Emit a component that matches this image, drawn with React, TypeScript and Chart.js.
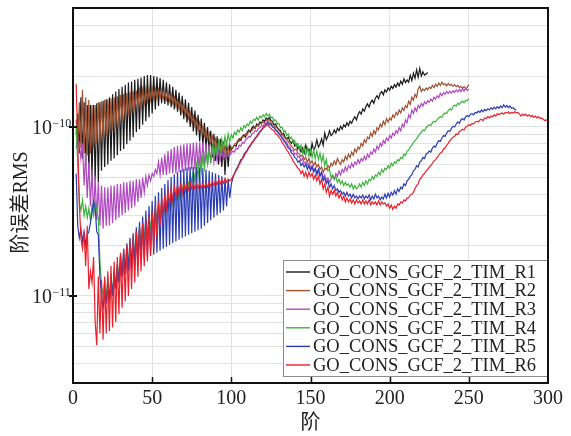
import React, { useEffect, useRef } from "react";
import { Chart, registerables } from "chart.js";

Chart.register(...registerables);

// Degree-error RMS values, unit 1e-11, every series starts at degree 2
const START_DEGREE = 2;
const UNIT = 1e-11;

const LABELS = [
  "GO_CONS_GCF_2_TIM_R1",
  "GO_CONS_GCF_2_TIM_R2",
  "GO_CONS_GCF_2_TIM_R3",
  "GO_CONS_GCF_2_TIM_R4",
  "GO_CONS_GCF_2_TIM_R5",
  "GO_CONS_GCF_2_TIM_R6",
];
const COLORS = ["#1a1a1a", "#a0502e", "#b048c0", "#3cb43c", "#2a3cb4", "#e8202c"];

const X_TICKS = [0, 50, 100, 150, 200, 250, 300];
const Y_MAJOR = [1e-11, 1e-10];
const Y_LABELS = ["10", "10"];
const Y_EXPONENTS = ["\u221211", "\u221210"];
const Y_GRID = [4e-12, 5e-12, 6e-12, 7e-12, 8e-12, 9e-12, 1e-11, 2e-11, 3e-11, 4e-11, 5e-11, 6e-11, 7e-11, 8e-11, 9e-11, 1e-10, 2e-10, 3e-10, 4e-10, 5e-10];
const X_TITLE = "阶";
const Y_TITLE = "阶误差RMS";

const R1 = [
  9.0, 12, 7.0, 15, 6.5, 14, 6.0, 13.5, 5.5, 13.5,
  5.0, 13.5, 4.8, 13.8, 4.7, 14, 5.5, 14.3, 5.8, 14.6,
  6.0, 15, 6.3, 15.6, 6.5, 16.2, 6.8, 16.8, 7.2, 17.3,
  7.4, 17.8, 7.9, 18.3, 8.3, 18.6, 8.7, 19, 9.3, 19.3,
  9.7, 19.6, 10.3, 20, 10.8, 20.3, 11.4, 20.3, 12, 20,
  12.7, 19.8, 13.3, 19.5, 13.8, 19, 13.7, 18.4, 13.4, 17.9,
  13.1, 17.3, 12.7, 16.6, 12.3, 16, 11.7, 15.3, 11.1, 14.6,
  10.6, 13.9, 10, 13.1, 9.4, 12.5, 8.9, 11.8, 8.2, 11.2,
  7.8, 10.6, 7.4, 10, 7.0, 9.5, 6.6, 9.1, 6.3, 8.8,
  6.0, 8.5, 5.8, 8.2, 5.2, 8.0, 5.8, 7.8,
  7.3, 7.6, 7.8, 7.7, 8.2, 8.5, 8.3, 8.8, 9.0, 8.7,
  9.3, 9.6, 9.3, 9.9, 10.1, 9.8, 10.4, 10.2, 10.7, 10.5,
  11, 10.8, 11.3, 11.1, 11.4, 10.9, 10.8, 10.3, 10.4, 9.9,
  9.7, 9.5, 9.0, 9.2, 8.7, 8.5, 8.7, 8.2, 8.0, 8.3,
  7.7, 7.9, 7.4, 7.6, 7.1, 7.5, 7.0, 7.8, 7.2, 7.4,
  6.9, 8.0, 7.3, 7.6, 8.4, 7.6, 7.9, 8.5, 7.8, 9.2,
  8.4, 8.8, 9.5, 8.9, 9.1, 9.6, 9.2, 9.8, 9.5, 10.1,
  9.7, 10.3, 10.0, 10.6, 10.2, 10.8, 10.5, 11.1, 11.5, 11.0,
  11.8, 12.3, 11.9, 12.8, 12.4, 13.2, 13.7, 13.1, 14.0, 14.4,
  13.8, 14.8, 15.3, 14.7, 15.8, 16.2, 15.5, 16.6, 16.1, 17.0,
  16.5, 17.4, 16.9, 17.8, 17.2, 18.2, 17.5, 18.7, 17.9, 19.3,
  18.3, 19.0, 18.4, 20.2, 18.8, 20.8, 19.4, 21.8, 19.7, 22.2,
  20.0, 21.2, 20.3, 20.6, 21.0,
];

const R2 = [
  11, 8, 14, 7.5, 16.6, 7.0, 15, 6.8, 14.5, 7.0,
  13.5, 7.5, 13.5, 8.0, 14, 8.2, 14.2, 8.5, 14.5, 8.8,
  14.6, 9.2, 14.8, 9.6, 15, 10, 15.2, 10.4, 15.5, 10.8,
  15.7, 11.2, 15.9, 11.7, 16.1, 12.2, 16.3, 12.7, 16.4, 13.1,
  16.5, 13.5, 16.6, 13.9, 16.7, 14.2, 16.8, 14.5, 16.8, 14.7,
  16.7, 14.8, 16.6, 14.8, 16.4, 14.7, 16.1, 14.5, 15.8, 14.2,
  15.4, 13.8, 14.9, 13.3, 14.4, 12.8, 13.9, 12.3, 13.4, 11.8,
  12.8, 11.2, 12.2, 10.7, 11.6, 10.2, 11.1, 9.7, 10.6, 9.3,
  10.1, 8.9, 9.6, 8.5, 9.2, 8.1, 8.8, 7.8, 8.5, 7.5,
  8.2, 7.2, 8.0, 7.0, 7.8, 6.9, 7.6, 6.9,
  7.6, 7.5, 7.9, 8.0, 8.3, 8.2, 8.6, 8.8, 8.7, 9.1,
  9.0, 9.4, 9.6, 9.5, 9.9, 9.8, 10.2, 10.1, 10.5, 10.4,
  10.7, 10.6, 11.0, 10.9, 11.1, 10.6, 10.4, 10.2, 10.0, 9.8,
  9.6, 9.3, 9.1, 8.8, 8.6, 8.4, 8.2, 7.9, 7.7, 7.5,
  7.3, 7.4, 7.0, 6.9, 6.7, 6.8, 6.4, 6.6, 6.2, 6.5,
  6.1, 6.3, 5.9, 6.2, 5.8, 6.0, 5.6, 5.8, 5.4, 5.7,
  5.6, 5.9, 5.7, 6.1, 5.9, 6.3, 6.0, 6.5, 6.2, 6.0,
  6.4, 6.2, 6.7, 6.4, 6.9, 6.6, 7.1, 6.8, 7.4, 7.1,
  7.6, 7.4, 8.0, 7.7, 8.4, 8.1, 8.7, 8.5, 9.2, 8.8,
  9.5, 9.1, 9.9, 9.6, 10.4, 10.0, 10.8, 10.3, 11.2, 10.7,
  11.3, 11.0, 11.8, 11.4, 12.2, 11.8, 12.6, 12.1, 13.0, 12.5,
  13.4, 13.0, 14.2, 13.6, 15.0, 14.4, 15.6, 15.0, 16.8, 17.4,
  16.2, 16.8, 16.4, 17.0, 16.6, 17.2, 16.9, 17.6, 17.1, 17.9,
  17.4, 18.2, 17.6, 18.4, 17.8, 18.0, 17.5, 18.1, 17.6, 17.9,
  17.4, 17.8, 17.3, 17.6, 17.1, 17.4, 16.9, 17.3, 16.8, 17.2,
  17.8,
];

const R3 = [
  7.5, 8.7, 8.0, 6.5, 8.0, 4.5, 7.0, 3.8, 6.2, 3.4,
  5.6, 3.0, 5.1, 2.8, 4.7, 2.6, 4.5, 2.5, 4.4, 2.6,
  4.4, 2.6, 4.5, 2.7, 4.5, 2.8, 4.6, 2.9, 4.6, 3.0,
  4.7, 3.1, 4.7, 3.2, 4.8, 3.3, 4.8, 3.4, 4.9, 3.6,
  4.9, 3.8, 5.0, 4.1, 5.1, 4.5, 5.2, 4.8, 5.3, 5.1,
  5.6, 5.3, 6.2, 5.2, 6.6, 5.2, 6.9, 5.2, 7.2, 5.3,
  7.4, 5.3, 7.6, 5.3, 7.7, 5.4, 7.8, 5.4, 7.9, 5.5,
  8.0, 5.5, 8.0, 5.6, 8.1, 5.6, 8.1, 5.7, 8.1, 5.8,
  8.1, 5.9, 8.0, 6.0, 7.9, 6.1, 7.7, 6.2, 7.5, 6.3,
  7.3, 6.4, 7.1, 6.5, 6.9, 6.6, 6.9, 6.8,
  7.0, 7.2, 7.1, 7.5, 7.4, 7.8, 7.7, 8.1, 8.0, 8.4,
  8.5, 8.8, 8.7, 9.1, 9.2, 9.5, 9.4, 9.8, 9.9, 10.2,
  10.1, 10.5, 10.4, 10.8, 10.6, 10.3, 10.1, 9.9, 9.6, 9.5,
  9.2, 9.0, 8.7, 8.5, 8.2, 8.1, 7.7, 7.6, 7.2, 7.3,
  6.9, 7.0, 6.6, 6.7, 6.3, 6.5, 6.1, 6.2, 5.9, 6.1,
  5.7, 5.9, 5.5, 5.7, 5.3, 5.6, 5.2, 5.4, 5.0, 5.2,
  4.8, 5.0, 4.7, 4.9, 5.1, 4.9, 5.3, 5.1, 5.5, 5.2,
  5.6, 5.4, 5.8, 5.5, 5.9, 5.7, 6.1, 5.8, 6.2, 6.0,
  6.4, 6.1, 6.5, 6.3, 6.7, 6.4, 6.9, 6.6, 7.1, 6.9,
  7.4, 7.1, 7.7, 7.4, 8.0, 7.7, 8.3, 8.0, 8.6, 8.3,
  8.9, 8.6, 9.2, 8.9, 9.5, 9.2, 9.9, 9.5, 10.4, 10.0,
  11.0, 10.6, 11.8, 11.3, 12.6, 12.0, 13.0, 12.4, 13.4, 13.0,
  13.8, 13.3, 14.1, 13.7, 14.3, 14.0, 14.6, 14.2, 15.0, 14.6,
  15.3, 14.9, 15.8, 15.3, 16.0, 15.6, 16.2, 15.8, 16.3, 15.9,
  16.4, 16.0, 16.6, 16.1, 16.7, 16.2, 16.8, 16.3, 16.9, 16.4,
  16.8,
];

const R4 = [
  10, 6.0, 3.6, 3.2, 3.7, 3.0, 3.4, 2.9, 3.3, 2.8,
  3.4, 3.0, 3.6, 3.2, 2.9, 1.6, 1.15, 1.0, 1.25, 0.95,
  1.3, 0.9, 1.35, 1.0, 1.45, 1.1, 1.55, 1.2, 1.7, 1.3,
  1.8, 1.4, 1.95, 1.5, 2.1, 1.6, 2.25, 1.7, 2.4, 1.85,
  2.55, 2.0, 2.7, 2.15, 2.85, 2.3, 3.0, 2.45, 3.15, 2.6,
  3.3, 2.75, 3.45, 2.9, 3.6, 3.05, 3.75, 3.2, 3.9, 3.35,
  4.05, 3.5, 4.2, 3.65, 4.4, 3.8, 4.6, 4.0, 4.8, 4.2,
  5.0, 4.4, 5.3, 4.6, 5.6, 4.8, 6.0, 5.1, 6.4, 5.4,
  6.7, 5.7, 7.0, 6.0, 7.3, 6.3, 7.6, 6.6, 7.9, 6.9,
  8.2, 7.2, 8.5, 7.5, 8.8, 7.8, 9.1, 8.2,
  9.0, 8.6, 9.3, 9.0, 9.6, 9.3, 9.9, 9.5, 10.2, 9.9,
  10.4, 10.2, 10.8, 10.5, 11.1, 10.9, 11.4, 11.0, 11.6, 11.3,
  11.8, 11.5, 12.0, 11.6, 11.9, 11.3, 11.4, 10.9, 11.0, 10.4,
  10.5, 9.9, 10.0, 9.4, 9.5, 8.9, 9.1, 8.5, 8.7, 8.1,
  8.3, 7.7, 8.0, 7.3, 7.8, 7.0, 7.6, 6.8, 7.5, 6.7,
  7.4, 6.6, 7.3, 6.5, 7.2, 6.4, 7.0, 6.2, 6.8, 5.9,
  6.4, 5.5, 5.6, 5.0, 5.2, 4.9, 5.1, 4.7, 4.9, 4.6,
  4.8, 4.5, 4.7, 4.5, 4.6, 4.4, 4.6, 4.3, 4.5, 4.3,
  4.4, 4.6, 4.4, 4.7, 4.5, 4.8, 4.6, 4.9, 4.8, 5.1,
  4.9, 5.2, 5.1, 5.4, 5.2, 5.6, 5.4, 5.7, 5.6, 5.9,
  5.7, 6.1, 5.9, 6.2, 6.1, 6.4, 6.3, 6.6, 6.5, 6.9,
  6.8, 7.2, 7.3, 7.6, 7.8, 8.1, 8.3, 8.5, 8.8, 9.1,
  9.3, 9.6, 9.5, 9.9, 10.1, 10.3, 10.2, 10.6, 10.8, 10.7,
  11.1, 11.3, 11.5, 11.4, 11.9, 12.1, 12.0, 12.5, 12.8, 12.6,
  13.2, 13.5, 13.3, 13.8, 13.6, 14.0, 14.2, 13.9, 14.4, 14.3,
  14.7,
];

const R5 = [
  5.3, 2.6, 2.2, 2.5, 2.1, 2.4, 2.0, 2.3, 2.4, 2.7,
  3.1, 3.6, 3.3, 2.4, 2.3, 1.3, 1.0, 0.83, 1.1, 0.9,
  1.2, 0.95, 1.3, 1.0, 1.4, 1.1, 1.55, 1.2, 1.75, 1.3,
  1.9, 1.35, 2.05, 1.4, 2.2, 1.45, 2.35, 1.5, 2.55, 1.55,
  2.75, 1.6, 2.95, 1.65, 3.2, 1.7, 3.4, 1.72, 3.65, 1.75,
  3.9, 1.8, 4.1, 1.85, 4.35, 1.9, 4.6, 1.95, 4.85, 2.0,
  5.05, 2.05, 5.25, 2.1, 5.4, 2.15, 5.55, 2.2, 5.65, 2.25,
  5.75, 2.3, 5.8, 2.35, 5.8, 2.4, 5.8, 2.45, 5.75, 2.5,
  5.7, 2.6, 5.6, 2.7, 5.5, 2.8, 5.4, 2.9, 5.3, 3.0,
  5.2, 3.1, 5.1, 3.2, 5.0, 3.4, 4.9, 3.8,
  4.6, 5.0, 5.3, 5.6, 5.8, 6.1, 6.4, 6.5, 6.9, 7.1,
  7.3, 7.6, 7.8, 8.1, 8.3, 8.6, 8.8, 9.1, 9.4, 9.6,
  9.9, 10.1, 10.4, 10.6, 10.3, 10.4, 10.0, 9.9, 9.6, 9.4,
  9.1, 8.9, 8.6, 8.3, 8.1, 7.8, 7.5, 7.4, 7.0, 6.9,
  6.6, 6.5, 6.2, 6.3, 5.9, 6.1, 5.8, 6.0, 5.6, 5.9,
  5.5, 5.8, 5.4, 5.7, 5.2, 5.6, 5.1, 5.4, 4.8, 5.0,
  4.6, 4.8, 4.4, 4.6, 4.3, 4.5, 4.2, 4.3, 4.1, 4.2,
  4.0, 4.1, 3.9, 4.1, 3.9, 4.0, 3.8, 4.0, 3.8, 3.9,
  3.75, 3.9, 3.8, 3.95, 3.75, 3.9, 3.8, 3.95, 3.7, 3.9,
  3.75, 4.0, 3.8, 3.9, 3.7, 3.85, 3.75, 4.0, 3.8, 4.05,
  3.85, 4.1, 3.95, 4.2, 4.0, 4.3, 4.15, 4.4, 4.3, 4.6,
  4.5, 4.8, 4.9, 5.1, 5.2, 5.5, 5.6, 5.9, 5.8, 6.2,
  6.3, 6.6, 6.5, 6.9, 7.0, 7.2, 7.1, 7.5, 7.7, 7.6,
  8.0, 8.3, 8.2, 8.6, 8.9, 8.8, 9.2, 9.5, 9.4, 9.8,
  10.1, 10.0, 10.4, 10.7, 10.5, 11.0, 11.2, 11.0, 11.5, 11.7,
  11.5, 11.9, 12.0, 11.8, 12.2, 12.1, 12.4, 12.2, 12.6, 12.3,
  12.7, 12.5, 12.8, 12.6, 13.0, 12.7, 13.1, 12.8, 13.2, 12.9,
  13.3, 13.0, 13.5, 13.1, 13.4, 13.0, 13.3, 12.9, 13.0, 12.7,
  12.6,
];

const R6 = [
  18, 8, 3.5, 2.2, 1.9, 2.4, 1.5, 2.6, 1.1, 1.4,
  1.2, 1.7, 0.7, 0.51, 1.3, 0.6, 1.24, 0.55, 1.3, 0.6,
  1.4, 0.62, 1.5, 0.65, 1.6, 0.7, 1.7, 0.78, 1.8, 0.85,
  1.9, 0.93, 2.0, 1.0, 2.1, 1.1, 2.25, 1.2, 2.4, 1.3,
  2.55, 1.4, 2.7, 1.5, 2.85, 1.6, 3.0, 1.75, 3.15, 1.9,
  3.4, 2.2, 3.6, 2.6, 3.8, 3.0, 4.0, 3.3, 4.2, 3.5,
  4.3, 3.7, 4.4, 3.9, 4.5, 4.0, 4.55, 4.1, 4.6, 4.2,
  4.6, 4.25, 4.65, 4.3, 4.6, 4.3, 4.6, 4.35, 4.6, 4.35,
  4.6, 4.4, 4.65, 4.4, 4.7, 4.45, 4.75, 4.5, 4.8, 4.55,
  4.85, 4.6, 4.9, 4.65, 4.9, 4.7, 4.9, 4.8,
  4.9, 5.1, 5.3, 5.5, 5.7, 6.0, 6.2, 6.5, 6.7, 7.0,
  7.2, 7.5, 7.7, 8.0, 8.2, 8.5, 8.7, 9.0, 9.3, 9.5,
  9.8, 10.0, 10.2, 10.3, 10.0, 9.8, 9.6, 9.5, 9.1, 9.0,
  8.7, 8.5, 8.1, 7.9, 7.6, 7.3, 7.1, 6.8, 6.6, 6.3,
  6.1, 5.9, 5.7, 5.6, 5.3, 5.5, 5.1, 5.4, 5.0, 5.4,
  5.1, 5.3, 4.9, 5.2, 4.8, 5.1, 4.6, 4.9, 4.3, 4.6,
  4.1, 4.4, 3.9, 4.2, 4.0, 4.2, 3.9, 4.1, 3.8, 4.0,
  3.7, 3.9, 3.6, 3.8, 3.6, 3.75, 3.55, 3.7, 3.5, 3.7,
  3.55, 3.65, 3.5, 3.7, 3.5, 3.65, 3.5, 3.7, 3.45, 3.6,
  3.5, 3.6, 3.45, 3.65, 3.45, 3.6, 3.5, 3.55, 3.4, 3.5,
  3.3, 3.45, 3.25, 3.4, 3.3, 3.5, 3.45, 3.6, 3.55, 3.7,
  3.65, 3.8, 3.8, 3.95, 4.0, 4.1, 4.3, 4.5, 4.6, 4.9,
  5.0, 5.2, 5.3, 5.5, 5.6, 5.8, 5.9, 6.1, 6.3, 6.4,
  6.6, 6.8, 7.0, 7.1, 7.4, 7.5, 7.8, 8.0, 8.3, 8.5,
  8.7, 8.8, 9.1, 9.0, 9.4, 9.5, 9.7, 9.6, 10.0, 10.1,
  10.3, 10.2, 10.5, 10.4, 10.7, 10.8, 10.7, 11.0, 11.1, 10.9,
  11.3, 11.2, 11.5, 11.3, 11.6, 11.5, 11.8, 11.6, 12.0, 11.8,
  12.0, 12.1, 11.9, 12.2, 12.1, 12.3, 12.0, 12.2, 12.1, 12.3,
  12.1, 12.2, 11.9, 11.6, 11.9, 11.7, 11.9, 11.6, 11.8, 11.5,
  11.7, 11.4, 11.6, 11.3, 11.5, 11.2, 11.3, 11.1, 10.9, 11.0,
  10.9,
];

const SERIES = [R1, R2, R3, R4, R5, R6];

const SERIF = '"Liberation Serif", "Times New Roman", "Noto Sans CJK SC", serif';
const TEXT_COLOR = "#222";

const decorPlugin = {
  id: "decor",
  afterDraw(chart: any) {
    const { ctx, chartArea } = chart;
    const xs = chart.scales.x;
    const ys = chart.scales.y;
    const { left, right, top, bottom } = chartArea;
    ctx.save();

    // legend
    const lx = 283.5, ly = 260.5, lw = 265, lh = 116;
    ctx.fillStyle = "#fff";
    ctx.fillRect(lx, ly, lw, lh);
    ctx.strokeStyle = "#8c8c8c";
    ctx.lineWidth = 1;
    ctx.strokeRect(lx, ly, lw, lh);
    ctx.font = "18.5px " + SERIF;
    ctx.textAlign = "left";
    ctx.textBaseline = "middle";
    LABELS.forEach((lab, i) => {
      const yy = 272 + i * 18.6;
      ctx.strokeStyle = COLORS[i];
      ctx.lineWidth = 1.4;
      ctx.beginPath();
      ctx.moveTo(286, yy);
      ctx.lineTo(310, yy);
      ctx.stroke();
      ctx.fillStyle = TEXT_COLOR;
      ctx.fillText(lab, 313, yy + 1);
    });

    // frame
    ctx.strokeStyle = "#111";
    ctx.lineWidth = 2;
    ctx.strokeRect(left, top, right - left, bottom - top);

    // ticks
    ctx.lineWidth = 1.5;
    X_TICKS.forEach((t) => {
      if (t === X_TICKS[0] || t === X_TICKS[X_TICKS.length - 1]) return;
      const px = Math.round(xs.getPixelForValue(t)) + 0.5;
      ctx.beginPath();
      ctx.moveTo(px, bottom - 6);
      ctx.lineTo(px, bottom + 1);
      ctx.stroke();
    });
    ctx.lineWidth = 2;
    Y_MAJOR.forEach((v, i) => {
      const py = Math.round(ys.getPixelForValue(v));
      ctx.beginPath();
      ctx.moveTo(left - 4, py);
      ctx.lineTo(left + 4, py);
      ctx.stroke();
      ctx.fillStyle = TEXT_COLOR;
      ctx.font = "20px " + SERIF;
      ctx.textAlign = "right";
      ctx.textBaseline = "alphabetic";
      ctx.fillText(Y_LABELS[i], 52, py + 7);
      ctx.font = "12px " + SERIF;
      ctx.textAlign = "left";
      ctx.fillText(Y_EXPONENTS[i], 52.5, py);
    });

    // titles
    ctx.fillStyle = TEXT_COLOR;
    ctx.font = "20px " + SERIF;
    ctx.textAlign = "center";
    ctx.textBaseline = "middle";
    ctx.fillText(X_TITLE, (left + right) / 2, 424);
    ctx.translate(22, 202.5);
    ctx.rotate(-Math.PI / 2);
    ctx.fillText(Y_TITLE, 0, 0);
    ctx.restore();
  },
};

export default function App() {
  const ref = useRef<HTMLCanvasElement | null>(null);
  useEffect(() => {
    if (!ref.current) return;
    const datasets = SERIES.map((s, i) => ({
      label: LABELS[i],
      data: s.map((v, k) => ({ x: START_DEGREE + k, y: v * UNIT })),
      borderColor: COLORS[i],
      backgroundColor: COLORS[i],
      borderWidth: 1.2,
      pointRadius: 0,
      tension: 0,
      fill: false,
      order: SERIES.length - i,
    }));
    const chart = new Chart(ref.current, {
      type: "line",
      data: { datasets },
      options: {
        animation: false,
        responsive: false,
        devicePixelRatio: 1,
        layout: { padding: { left: 0, right: 23, top: 8, bottom: 0 } },
        plugins: { legend: { display: false }, tooltip: { enabled: false } },
        scales: {
          x: {
            type: "linear",
            min: 0,
            max: 300,
            afterBuildTicks: (axis: any) => {
              axis.ticks = X_TICKS.map((v) => ({ value: v }));
            },
            afterFit: (axis: any) => {
              axis.height = 53;
            },
            grid: { color: "#e2e2e2", lineWidth: 1, drawTicks: false },
            border: { display: false },
            ticks: {
              padding: 4,
              maxRotation: 0,
              autoSkip: false,
              color: TEXT_COLOR,
              font: { family: SERIF, size: 20 },
            },
          },
          y: {
            type: "logarithmic",
            min: 3.05e-12,
            max: 5.06e-10,
            afterBuildTicks: (axis: any) => {
              axis.ticks = Y_GRID.map((v) => ({ value: v }));
            },
            afterFit: (axis: any) => {
              axis.width = 73;
            },
            grid: { color: "#e2e2e2", lineWidth: 1, drawTicks: false },
            border: { display: false },
            ticks: { display: false },
          },
        },
      },
      plugins: [decorPlugin],
    } as any);
    return () => chart.destroy();
  }, []);
  return (
    <canvas
      ref={ref}
      width={571}
      height={436}
      style={{ position: "fixed", left: 0, top: 0, width: 571, height: 436 }}
    />
  );
}
